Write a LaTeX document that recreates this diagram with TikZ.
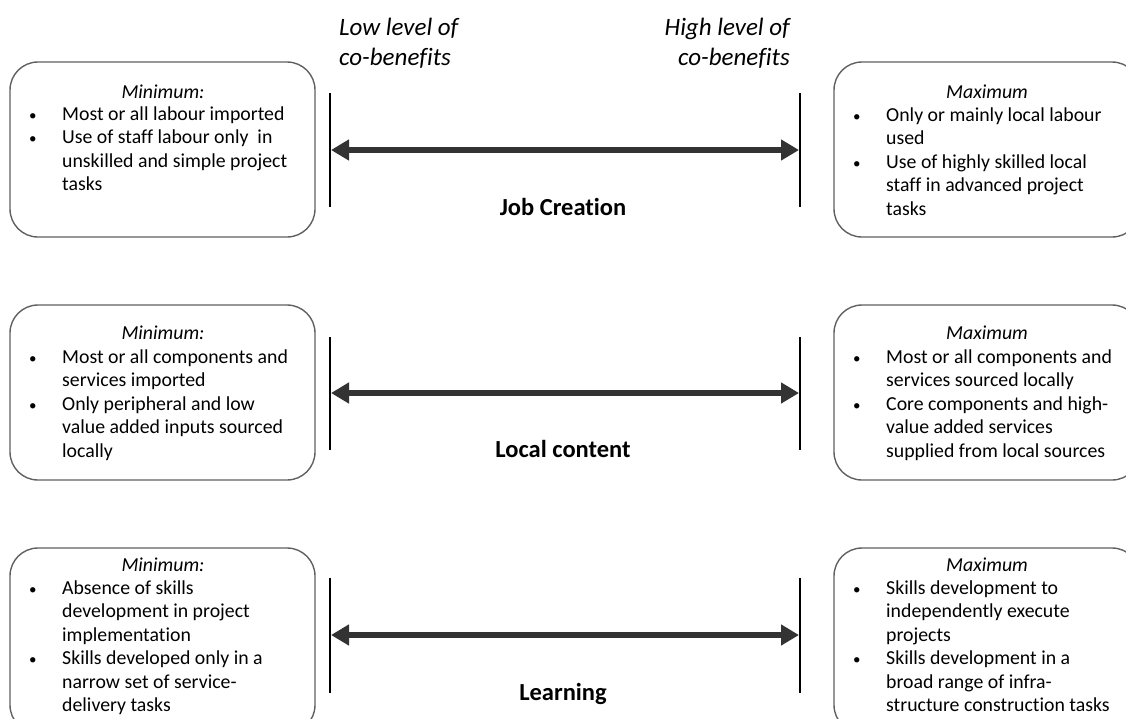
\documentclass[tikz,border=0pt]{standalone}
\usepackage{fontspec}
\setmainfont{Carlito}[Ligatures=NoCommon]
\usetikzlibrary{arrows.meta}
\definecolor{boxgray}{HTML}{606060}
\definecolor{arrowgray}{HTML}{333333}
\tikzset{
  cbox/.style={draw=boxgray, line width=1.4pt, rounded corners=28pt, fill=none, inner sep=0pt},
  bodytext/.style={inner sep=0pt, font=\fontsize{19.8}{23.5}\selectfont},
  headtext/.style={inner sep=0pt, font=\fontsize{19.8}{23.5}\selectfont\itshape},
  sidetext/.style={inner sep=0pt, font=\fontsize{25}{30}\selectfont\itshape},
  rowlabel/.style={inner sep=0pt, font=\fontsize{24.5}{28}\selectfont\bfseries},
  endbar/.style={line width=2.2pt, black},
  spanarrow/.style={line width=6pt, arrowgray, {Triangle[length=18pt,width=20pt]}-{Triangle[length=18pt,width=20pt]}}
}
\newcommand{\blist}[1]{\begin{tabular}[t]{@{}p{33pt}@{}l@{}}#1\end{tabular}}
\newcommand{\bu}{{\fontsize{15}{15}\selectfont\textbullet}}
\begin{document}
\begin{tikzpicture}[x=1pt,y=-1pt]
\useasboundingbox (0,0) rectangle (1126,718);
\clip (0,0) rectangle (1126,718);

% side labels
\node[sidetext, anchor=base west] (low) at (339,35) {\begin{tabular}[t]{@{}l@{}}Low level of\\co-benefits\end{tabular}};
\node[sidetext, anchor=base east] (high) at (790,35) {\begin{tabular}[t]{@{}r@{}}High level of\\co-benefits\end{tabular}};

% ---------- Row 1: Job Creation ----------
\node[cbox, minimum width=305pt, minimum height=175pt] (b1l) at (162.5,149.5) {};
\node[cbox, minimum width=306pt, minimum height=175pt] (b1r) at (987,149.5) {};
\node[headtext, anchor=base] (h1l) at (163,98) {Minimum:};
\node[bodytext, anchor=base west] (t1l) at (29,120) {\blist{\bu & Most or all labour imported\\ \bu & Use of staff labour only\ \ in\\ & unskilled and simple project\\ & tasks}};
\node[headtext, anchor=base] (h1r) at (987,98) {Maximum};
\node[bodytext, anchor=base west] (t1r) at (853,121) {\blist{\bu & Only or mainly local labour\\ & used\\ \bu & Use of highly skilled local\\ & staff in advanced project\\ & tasks}};
\coordinate (v1lt) at (330,93); \coordinate (v1lb) at (330,207);
\coordinate (v1rt) at (800,93); \coordinate (v1rb) at (800,207);
\draw[endbar] (v1lt) -- (v1lb);
\draw[endbar] (v1rt) -- (v1rb);
\coordinate (a1l) at (331,150); \coordinate (a1r) at (799,150);
\draw[spanarrow] (a1l) -- (a1r);
\node[rowlabel, anchor=base] (l1) at (563,215) {Job Creation};

% ---------- Row 2: Local content ----------
\node[cbox, minimum width=305pt, minimum height=175pt] (b2l) at (162.5,392.5) {};
\node[cbox, minimum width=306pt, minimum height=175pt] (b2r) at (987,392.5) {};
\node[headtext, anchor=base] (h2l) at (163,339) {Minimum:};
\node[bodytext, anchor=base west] (t2l) at (29,363) {\blist{\bu & Most or all components and\\ & services imported\\ \bu & Only peripheral and low\\ & value added inputs sourced\\ & locally}};
\node[headtext, anchor=base] (h2r) at (987,339) {Maximum};
\node[bodytext, anchor=base west] (t2r) at (853,363) {\blist{\bu & Most or all components and\\ & services sourced locally\\ \bu & Core components and high-\\ & value added services\\ & supplied from local sources}};
\coordinate (v2lt) at (330,337); \coordinate (v2lb) at (330,450);
\coordinate (v2rt) at (800,337); \coordinate (v2rb) at (800,450);
\draw[endbar] (v2lt) -- (v2lb);
\draw[endbar] (v2rt) -- (v2rb);
\coordinate (a2l) at (331,393); \coordinate (a2r) at (799,393);
\draw[spanarrow] (a2l) -- (a2r);
\node[rowlabel, anchor=base] (l2) at (563,457) {Local content};

% ---------- Row 3: Learning ----------
\node[cbox, minimum width=305pt, minimum height=185pt] (b3l) at (162.5,640.5) {};
\node[cbox, minimum width=306pt, minimum height=185pt] (b3r) at (987,640.5) {};
\node[headtext, anchor=base] (h3l) at (163,571) {Minimum:};
\node[bodytext, anchor=base west] (t3l) at (29,594) {\blist{\bu & Absence of skills\\ & development in project\\ & implementation\\ \bu & Skills developed only in a\\ & narrow set of service-\\ & delivery tasks}};
\node[headtext, anchor=base] (h3r) at (987,571) {Maximum};
\node[bodytext, anchor=base west] (t3r) at (853,594) {\blist{\bu & Skills development to\\ & independently execute\\ & projects\\ \bu & Skills development in a\\ & broad range of infra-\\ & structure construction tasks}};
\coordinate (v3lt) at (330,578); \coordinate (v3lb) at (330,693);
\coordinate (v3rt) at (800,578); \coordinate (v3rb) at (800,693);
\draw[endbar] (v3lt) -- (v3lb);
\draw[endbar] (v3rt) -- (v3rb);
\coordinate (a3l) at (331,635); \coordinate (a3r) at (799,635);
\draw[spanarrow] (a3l) -- (a3r);
\node[rowlabel, anchor=base] (l3) at (563,700) {Learning};
\end{tikzpicture}
\end{document}
